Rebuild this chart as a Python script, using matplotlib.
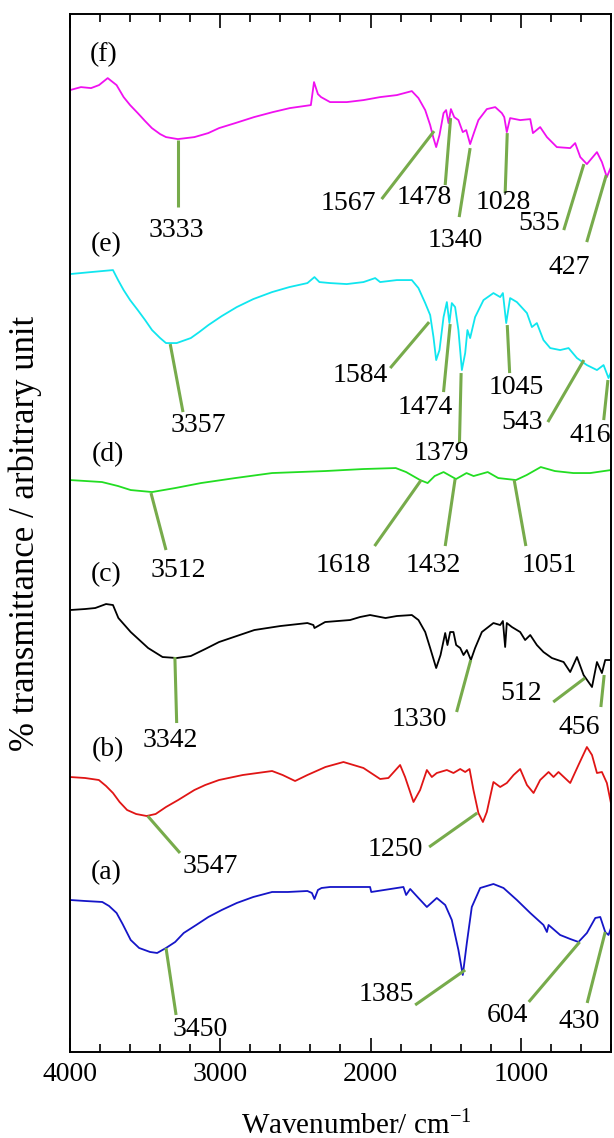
import matplotlib
matplotlib.use("Agg")
import matplotlib.pyplot as plt

plt.rcParams["font.family"] = ["Liberation Serif", "DejaVu Serif"]
plt.rcParams["mathtext.fontset"] = "custom"
plt.rcParams["mathtext.rm"] = "Liberation Serif"

# spectra: (wavenumber, transmittance in arbitrary offset units)
wn_a = [4000, 3900, 3785, 3740, 3690, 3650, 3596, 3540, 3467, 3420, 3361, 3300, 3243, 3160, 3079, 2990, 2890,
        2780, 2655, 2550, 2420, 2390, 2373, 2350, 2326, 2269, 2003, 1995, 1781, 1763, 1736, 1681, 1625,
        1559, 1503, 1459, 1415, 1386, 1359, 1326, 1270, 1182, 1115, 1026, 937, 849, 826, 815, 738, 671,
        616, 560, 504, 471, 438, 416, 400]
t_a = [152, 151, 150, 146, 139, 128, 112, 104, 100, 99, 104, 110, 119, 127, 135, 142, 149,
       155, 160, 160, 161, 159, 153, 162, 164, 165, 165, 160, 165, 157, 163, 154, 145,
       154, 147, 132, 102, 77, 109, 145, 164, 168, 164, 152, 139, 127, 120, 127, 117, 113,
       110, 119, 134, 135, 120, 117, 124]

wn_b = [4000, 3900, 3808, 3760, 3714, 3670, 3620, 3560, 3490, 3430, 3361, 3280, 3172, 3100, 3008, 2850,
        2655, 2585, 2502, 2420, 2300, 2180, 2047, 1936, 1881, 1803, 1770, 1714, 1670, 1625, 1592, 1559,
        1492, 1448, 1403, 1370, 1341, 1315, 1282, 1252, 1226, 1182, 1137, 1093, 1048, 1004, 959, 915,
        871, 815, 782, 749, 671, 616, 560, 526, 493, 460, 427, 400]
t_b = [275, 274, 272, 266, 259, 250, 242, 238, 236, 238, 245, 252, 262, 267, 272, 277,
       281, 277, 271, 277, 285, 290, 284, 273, 274, 287, 275, 250, 262, 282, 275, 279,
       282, 279, 283, 280, 283, 262, 239, 230, 240, 270, 265, 269, 277, 283, 267, 259,
       272, 280, 275, 280, 269, 287, 305, 297, 279, 280, 269, 249]

wn_c = [4000, 3900, 3832, 3760, 3714, 3678, 3596, 3480, 3384, 3290, 3196, 3100, 3008, 2773, 2600, 2420, 2380,
        2373, 2302, 2136, 2070, 2003, 1900, 1825, 1725, 1681, 1636, 1603, 1563, 1534, 1503, 1488, 1470,
        1448, 1430, 1403, 1381, 1359, 1332, 1304, 1259, 1182, 1137, 1119, 1104, 1093, 1059, 1004, 971,
        937, 893, 849, 793, 715, 671, 626, 582, 526, 493, 460, 438, 400]
t_c = [442, 443, 444, 448, 447, 434, 420, 404, 395, 394, 396, 403, 410, 422, 426, 429, 427,
       424, 430, 432, 435, 437, 434, 436, 437, 432, 420, 404, 384, 397, 419, 407, 420,
       420, 407, 404, 397, 402, 392, 404, 420, 429, 427, 431, 405, 429, 425, 420, 412,
       417, 407, 400, 394, 390, 380, 395, 377, 365, 390, 379, 392, 392]

wn_d = [4000, 3787, 3680, 3596, 3454, 3300, 3128, 2900, 2655, 2302, 2050, 1832, 1763, 1670, 1620, 1573,
        1514, 1431, 1361, 1314, 1220, 1150, 1032, 961, 867, 773, 650, 538, 400]
t_d = [572, 570, 566, 562, 560, 564, 569, 574, 579, 581, 583, 584, 580, 572, 569, 576,
       580, 573, 579, 576, 580, 574, 572, 577, 585, 581, 579, 579, 582]

wn_e = [4000, 3860, 3714, 3680, 3643, 3600, 3549, 3500, 3454, 3400, 3361, 3290, 3196, 3140, 3079, 2990,
        2890, 2780, 2655, 2540, 2420, 2373, 2340, 2269, 2158, 2047, 1969, 1936, 1825, 1725, 1681, 1636,
        1603, 1581, 1563, 1541, 1514, 1492, 1475, 1459, 1437, 1415, 1392, 1370, 1355, 1337, 1304, 1248,
        1182, 1137, 1119, 1097, 1071, 1026, 959, 926, 893, 849, 804, 738, 682, 626, 560, 493, 449, 416,
        400]
t_e = [778, 780, 782, 772, 762, 752, 742, 732, 722, 714, 709, 709, 714, 720, 727, 736,
       745, 753, 760, 765, 769, 775, 770, 769, 768, 770, 774, 770, 772, 772, 764, 749,
       737, 715, 692, 702, 735, 750, 729, 749, 745, 722, 682, 699, 722, 714, 735, 752,
       759, 755, 759, 729, 754, 750, 739, 725, 729, 712, 704, 702, 704, 694, 687, 682, 687, 674,
       680]

wn_f = [4000, 3927, 3860, 3807, 3749, 3690, 3643, 3600, 3549, 3500, 3455, 3400, 3361, 3282, 3172, 3080,
        3008, 2900, 2775, 2650, 2537, 2397, 2376, 2350, 2329, 2269, 2158, 2047, 1936, 1825, 1725, 1681,
        1636, 1603, 1581, 1563, 1541, 1514, 1497, 1481, 1465, 1443, 1415, 1386, 1363, 1337, 1310, 1282,
        1226, 1170, 1126, 1110, 1093, 1071, 1004, 937, 919, 871, 826, 760, 671, 638, 604, 560, 493, 460,
        427, 400]
t_f = [962, 965, 964, 967, 974, 967, 955, 947, 939, 931, 924, 918, 915, 913, 915, 919,
       924, 929, 935, 940, 944, 947, 970, 958, 955, 950, 950, 952, 955, 957, 961, 954,
       942, 927, 914, 905, 917, 939, 942, 929, 943, 935, 932, 920, 922, 908, 920, 932,
       943, 945, 939, 935, 920, 934, 932, 933, 919, 925, 915, 905, 904, 909, 895, 888, 900, 890,
       875, 885]

spectra = [
    ("(a)", wn_a, t_a, "#1515c8"),
    ("(b)", wn_b, t_b, "#e01515"),
    ("(c)", wn_c, t_c, "#000000"),
    ("(d)", wn_d, t_d, "#22dd22"),
    ("(e)", wn_e, t_e, "#10e6ef"),
    ("(f)", wn_f, t_f, "#f010f0"),
]

# peak marks: label, line start (wn, t), line end (wn, t), label centre (wn, t)
peaks = [
    ("3450", (3361, 104), (3294, 37), (3134, 22)),
    ("1385", (1370, 82), (1703, 47), (1898, 57)),
    ("604", (608, 110), (947, 50), (1090, 36)),
    ("430", (438, 120), (558, 49), (613, 30)),
    ("3547", (3483, 236), (3268, 199), (3068, 185)),
    ("1250", (1290, 239), (1610, 205), (1836, 202)),
    ("3342", (3302, 395), (3290, 329), (3334, 312)),
    ("1330", (1333, 392), (1427, 340), (1678, 333)),
    ("512", (573, 374), (784, 350), (997, 359)),
    ("456", (445, 377), (467, 345), (608, 325)),
    ("3512", (3461, 559), (3361, 502), (3281, 482)),
    ("1618", (1663, 572), (1973, 506), (2184, 487)),
    ("1432", (1437, 573), (1503, 506), (1584, 487)),
    ("1051", (1044, 572), (966, 506), (808, 487)),
    ("3357", (3333, 708), (3248, 640), (3149, 627)),
    ("1584", (1610, 730), (1869, 684), (2069, 677)),
    ("1474", (1470, 728), (1514, 660), (1638, 645)),
    ("1379", (1397, 679), (1408, 609), (1526, 599)),
    ("1045", (1090, 727), (1074, 679), (1031, 665)),
    ("543", (580, 692), (820, 630), (990, 630)),
    ("416", (420, 672), (448, 632), (538, 617)),
    ("3333", (3283, 912), (3283, 845), (3290, 822)),
    ("1567", (1577, 921), (1926, 853), (2149, 849)),
    ("1478", (1467, 934), (1503, 867), (1643, 855)),
    ("1340", (1337, 904), (1410, 835), (1437, 812)),
    ("1028", (1090, 919), (1104, 859), (1114, 850)),
    ("535", (580, 888), (714, 822), (877, 829)),
    ("427", (431, 877), (561, 810), (678, 785)),
]
tag_pos = [(3760, 179), (3749, 302), (3760, 477), (3749, 597), (3760, 807), (3774, 997)]

fig = plt.figure(figsize=(6.14, 11.38), dpi=100)
ax = fig.add_axes([0.114, 0.0756, 0.881, 0.912])

for (tag, wn, t, color), (tx, ty) in zip(spectra, tag_pos):
    ax.plot(wn, t, color=color, lw=1.3)
    ax.text(tx, ty, tag, fontsize=20, ha="center", va="center")

for label, start, end, pos in peaks:
    ax.plot([start[0], end[0]], [start[1], end[1]], color="#77ab4b", lw=2.2, solid_capstyle="butt")
    ax.text(pos[0], pos[1], label, fontsize=20, ha="center", va="center", clip_on=True)

ax.set_xlim(4000, 400)
ax.set_ylim(0, 1038)
ax.set_yticks([])
ax.set_xticks([4000, 3000, 2000, 1000])
ax.set_xticks(range(400, 4000, 200), minor=True)
ax.tick_params(axis="x", which="both", direction="in", top=True, labelsize=20, pad=7, width=1.2)
ax.tick_params(axis="x", which="major", length=10)
ax.tick_params(axis="x", which="minor", length=6)
for sp in ax.spines.values():
    sp.set_linewidth(1.4)

ax.set_xlabel("Wavenumber/ cm$^{-1}$", fontsize=21, va="center")
ax.xaxis.set_label_coords(0.53, -0.070)
ax.set_ylabel("% transmittance / arbitrary unit", fontsize=25, va="center")
ax.yaxis.set_label_coords(-0.083, 0.5)

fig.savefig("out.png", dpi=100)
